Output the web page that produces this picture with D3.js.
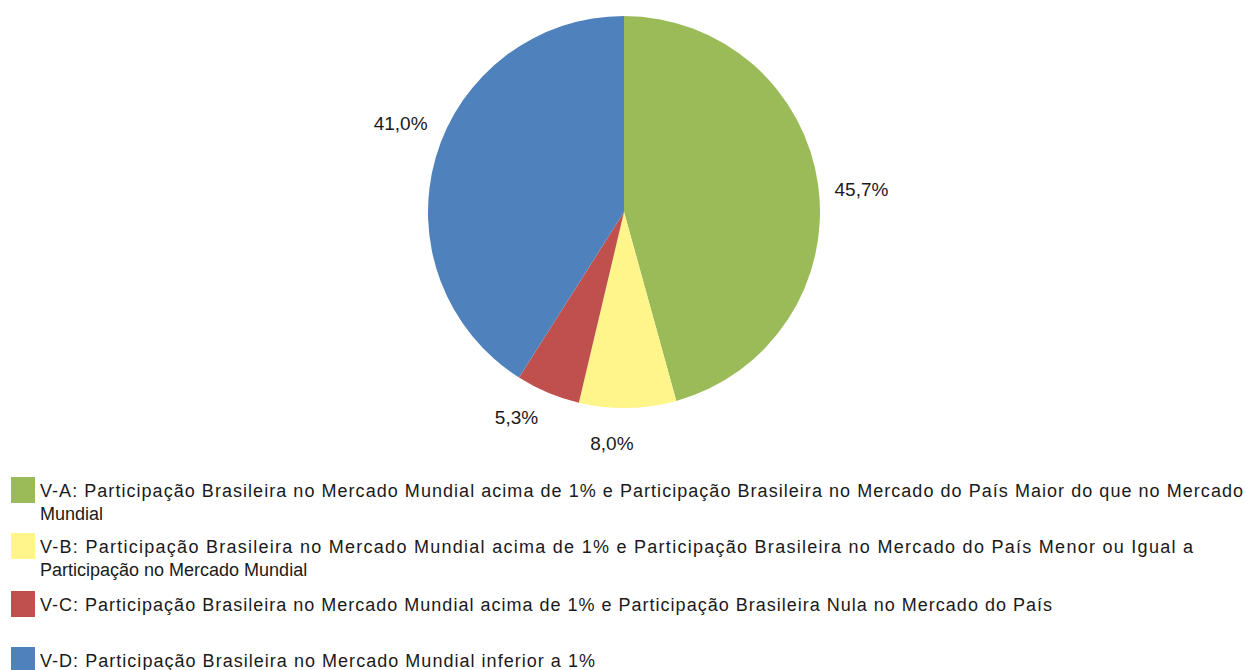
<!DOCTYPE html>
<html>
<head>
<meta charset="utf-8">
<script src="https://cdn.jsdelivr.net/npm/d3@7"></script>
<style>
  body { margin: 0; background: #fff; }
  svg { display: block; }
  text { font-family: "Liberation Sans", Arial, sans-serif; fill: #1a1a1a; }
</style>
</head>
<body>
<svg id="chart" width="1246" height="670"></svg>
<script>
// slices in clockwise order starting at 12 o'clock
const keys   = ["V-A", "V-B", "V-C", "V-D"];
const shares = [45.7, 8.0, 5.3, 41.0];
const colors = ["#9bbb59", "#fff58a", "#c0504d", "#4f81bd"];
// legend text, already broken where the reference breaks it
const legendLines = [
	["V-A: Participação Brasileira no Mercado Mundial acima de 1% e Participação Brasileira no Mercado do País Maior do que no Mercado", "Mundial"],
	["V-B: Participação Brasileira no Mercado Mundial acima de 1% e Participação Brasileira no Mercado do País Menor ou Igual a", "Participação no Mercado Mundial"],
	["V-C: Participação Brasileira no Mercado Mundial acima de 1% e Participação Brasileira Nula no Mercado do País"],
	["V-D: Participação Brasileira no Mercado Mundial inferior a 1%"]
];
// width of the first line of each entry in the reference
const legendWidths = [1203, 1153, 1012, 555];

const svg = d3.select("#chart");
const cx = 624, cy = 212, radius = 196;

const data = keys.map((k, i) => ({key: k, value: shares[i], color: colors[i]}));

const pie = d3.pie().value(d => d.value).sort(null);
const arc = d3.arc().innerRadius(0).outerRadius(radius);
// excel puts its outside labels a little clockwise of the slice middle
const shift = 4 * Math.PI / 180;
const labelArc = d3.arc().innerRadius(radius + 42).outerRadius(radius + 42);

const g = svg.append("g").attr("transform", "translate(" + cx + "," + cy + ")");
const arcs = pie(data);

g.selectAll("path.slice")
	.data(arcs)
	.join("path")
	.attr("class", "slice")
	.attr("d", arc)
	.attr("fill", d => d.data.color);

g.selectAll("text.pct")
	.data(arcs)
	.join("text")
	.attr("class", "pct")
	.each(function(d) {
		let c = labelArc.centroid({startAngle: d.startAngle + shift, endAngle: d.endAngle + shift});
		d3.select(this).attr("x", c[0]).attr("y", c[1]);
	})
	.attr("text-anchor", "middle")
	.style("font-size", "19px")
	.text(d => d.data.value.toFixed(1).replace(".", ",") + "%");

// legend
const legendTop = [477, 533, 591, 647];
const lineGap = 23;

const leg = svg.append("g").attr("id", "legend");
data.forEach((d, i) => {
	leg.append("rect")
	   .attr("x", 11).attr("y", legendTop[i])
	   .attr("width", 24).attr("height", 26)
	   .attr("fill", d.color);
	legendLines[i].forEach((line, j) => {
		let t = leg.append("text")
		   .attr("x", 40)
		   .attr("y", legendTop[i] + 20 + j * lineGap)
		   .style("font-size", "18px")
		   .text(line);
		if (j == 0) {
			t.attr("textLength", legendWidths[i]).attr("lengthAdjust", "spacing");
		}
	});
});
</script>
</body>
</html>
